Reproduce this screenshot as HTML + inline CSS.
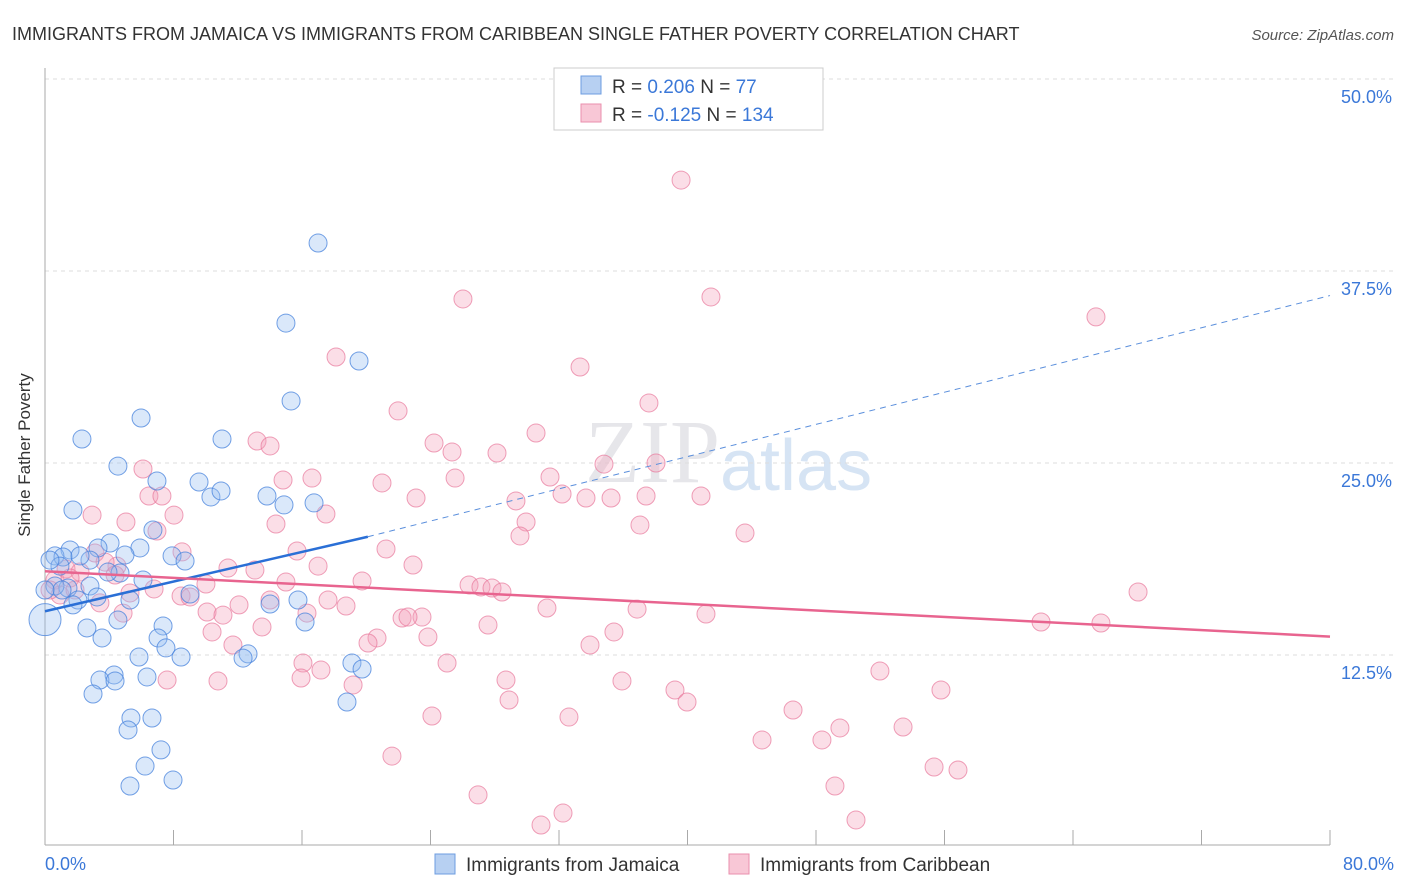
<!DOCTYPE html>
<html><head><meta charset="utf-8"><style>
body{margin:0;background:#fff;font-family:"Liberation Sans",sans-serif}
</style></head><body>
<svg id="chart" width="1406" height="892" xmlns="http://www.w3.org/2000/svg" style="display:block">
<text x="12" y="40" font-size="18" fill="#333">IMMIGRANTS FROM JAMAICA VS IMMIGRANTS FROM CARIBBEAN SINGLE FATHER POVERTY CORRELATION CHART</text>
<text x="1394" y="40" font-size="15" fill="#555" text-anchor="end" font-style="italic">Source: ZipAtlas.com</text>
<text x="720" y="482" font-size="90" fill="#e6e6ea" text-anchor="end" font-family="Liberation Serif,serif">ZIP</text>
<text x="720" y="490" font-size="72" fill="#d6e4f4">atlas</text>
<g id="grid"></g>
<line x1="45" y1="68" x2="45" y2="845" stroke="#aaa"/>
<line x1="45" y1="845" x2="1330" y2="845" stroke="#aaa"/>
<text x="30" y="455" font-size="17" fill="#333" text-anchor="middle" transform="rotate(-90 30 455)">Single Father Poverty</text>
<text x="45" y="870" font-size="18" fill="#3b78d8">0.0%</text>
<text x="1394" y="870" font-size="18" fill="#3b78d8" text-anchor="end">80.0%</text>
<g id="pts"></g>
<g id="lines"></g>
<g>
<rect x="554" y="68" width="269" height="62" fill="#fff" stroke="#ccc"/>
<rect x="581" y="76" width="20" height="18" fill="#b7d0f2" stroke="#6d9de0"/>
<rect x="581" y="104" width="20" height="18" fill="#f8c7d6" stroke="#ea8fad"/>
<text x="612" y="93" font-size="19" fill="#333">R = <tspan fill="#3b78d8">0.206</tspan>   N = <tspan fill="#3b78d8"> 77</tspan></text>
<text x="612" y="121" font-size="19" fill="#333">R = <tspan fill="#3b78d8">-0.125</tspan>   N = <tspan fill="#3b78d8">134</tspan></text>
</g>
<g>
<rect x="435" y="854" width="20" height="20" fill="#b7d0f2" stroke="#6d9de0"/>
<text x="466" y="871" font-size="19" fill="#333">Immigrants from Jamaica</text>
<rect x="729" y="854" width="20" height="20" fill="#f8c7d6" stroke="#ea8fad"/>
<text x="760" y="871" font-size="19" fill="#333">Immigrants from Caribbean</text>
</g>
</svg>
<script>
const yTicks=[12.5,25,37.5,50];
const xTicks=[0,8,16,24,32,40,48,56,64,72,80];
// pixel-read points converted to data (%)
const bluePx=[[318,243],[286,323],[359,361],[291,401],[141,418],[82,439],[222,439],[118,466],[157,481],[199,482],[211,497],[221,491],[267,496],[284,505],[314,503],[73,510],[153,530],[110,543],[140,548],[98,548],[125,555],[70,550],[55,556],[63,557],[90,560],[60,566],[80,556],[172,556],[185,561],[120,573],[108,572],[143,580],[90,586],[68,588],[55,586],[62,590],[97,597],[130,600],[78,600],[190,594],[270,604],[298,600],[73,605],[118,620],[163,626],[305,622],[87,628],[158,638],[102,638],[166,648],[139,657],[181,657],[248,654],[243,658],[114,675],[352,663],[362,669],[147,677],[100,680],[115,681],[93,694],[347,702],[131,718],[152,718],[128,730],[161,750],[145,766],[173,780],[130,786],[50,560],[45,590]];
const pinkPx=[[681,180],[463,299],[711,297],[1096,317],[336,357],[580,367],[649,403],[398,411],[257,441],[270,446],[434,443],[452,452],[536,433],[497,453],[604,464],[656,463],[143,469],[550,477],[382,483],[455,478],[312,478],[283,480],[149,496],[162,496],[416,498],[516,501],[562,494],[586,498],[611,498],[646,496],[701,496],[92,515],[174,515],[326,514],[276,524],[126,522],[526,522],[640,525],[520,536],[745,533],[157,531],[386,549],[297,551],[182,552],[95,553],[318,566],[413,565],[228,568],[255,570],[117,566],[362,581],[469,585],[481,587],[492,588],[502,592],[286,582],[206,584],[154,589],[1138,592],[130,593],[181,596],[328,600],[270,600],[190,597],[239,605],[346,606],[547,608],[637,609],[706,614],[307,613],[207,612],[223,615],[123,613],[402,618],[422,617],[408,617],[1041,622],[1101,623],[488,625],[262,627],[614,632],[212,632],[428,637],[377,638],[368,643],[590,645],[233,645],[303,663],[447,663],[321,670],[301,678],[506,680],[167,680],[218,681],[353,685],[622,681],[675,690],[880,671],[941,690],[509,700],[687,702],[432,716],[569,717],[793,710],[840,728],[903,727],[822,740],[762,740],[392,756],[934,767],[958,770],[835,786],[478,795],[563,813],[541,825],[856,820],[66,569],[80,572],[55,580],[60,595],[70,578],[105,562],[115,575],[100,603],[75,590],[50,590]];
const toData=p=>[+((p[0]-45)/1285*80).toFixed(2),+((847-p[1])/192*12.5).toFixed(2)];
const blueX=bluePx.map(p=>toData(p)[0]), blueY=bluePx.map(p=>toData(p)[1]);
const pinkX=pinkPx.map(p=>toData(p)[0]), pinkY=pinkPx.map(p=>toData(p)[1]);
const blueTrend=[15.35,20.2,35.9]; // y at x=0, 20.1, 80
const pinkTrend=[17.95,13.7];
const sx=v=>45+v/80*1285, sy=v=>847-v/12.5*192;
const NS="http://www.w3.org/2000/svg";
function mk(tag,attrs,parent){const e=document.createElementNS(NS,tag);for(const k in attrs)e.setAttribute(k,attrs[k]);parent.appendChild(e);return e;}
const grid=document.getElementById('grid');
yTicks.forEach(t=>{
 const l=mk('line',{x1:45,x2:1394,y1:sy(t),y2:sy(t),stroke:'#ddd','stroke-dasharray':'4,4'},grid);
 
 
 const tx=mk('text',{x:1392,y:sy(t)+24,'font-size':18,fill:'#3b78d8','text-anchor':'end'},grid);
 tx.textContent=t.toFixed(1)+'%';
 
 
});
xTicks.forEach(t=>{
 const l=mk('line',{x1:sx(t),x2:sx(t),y1:830,y2:845,stroke:'#aaa'},grid);
 
 
});
const pts=document.getElementById('pts');
pinkX.forEach((x,i)=>{
 const c=mk('circle',{cx:sx(x),cy:sy(pinkY[i]),r:9,fill:'rgba(244,160,186,0.35)',stroke:'rgba(232,120,155,0.7)','stroke-width':1},pts);
 
 
});
blueX.forEach((x,i)=>{
 const c=mk('circle',{cx:sx(x),cy:sy(blueY[i]),r:9,fill:'rgba(150,190,240,0.35)',stroke:'rgba(70,130,220,0.75)','stroke-width':1},pts);
 
 
});
const big=mk('circle',{cx:sx(0),cy:sy(14.8),r:16,fill:'rgba(150,190,240,0.35)',stroke:'rgba(70,130,220,0.75)'},pts);


const lines=document.getElementById('lines');
const b1=mk('line',{x1:sx(0),y1:sy(blueTrend[0]),x2:sx(20.1),y2:sy(blueTrend[1]),stroke:'#2a6fd6','stroke-width':2.5},lines);


const b2=mk('line',{x1:sx(20.1),y1:sy(blueTrend[1]),x2:sx(80),y2:sy(blueTrend[2]),stroke:'#5b8fdc','stroke-width':1,'stroke-dasharray':'6,5'},lines);


const p1=mk('line',{x1:sx(0),y1:sy(pinkTrend[0]),x2:sx(80),y2:sy(pinkTrend[1]),stroke:'#e8648f','stroke-width':2.5},lines);


</script>
</body></html>
